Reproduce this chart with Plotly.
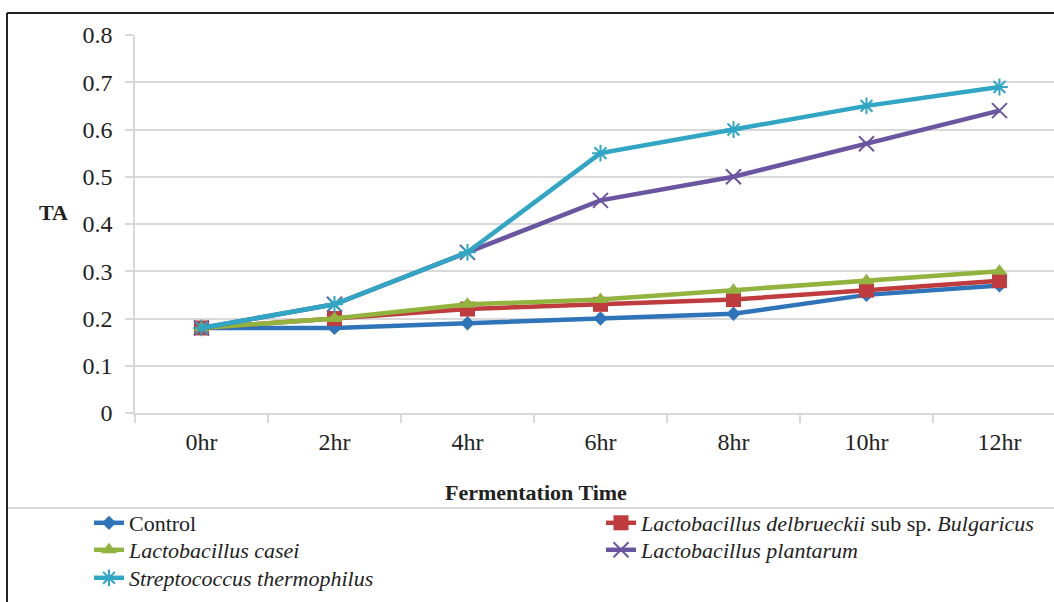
import plotly.graph_objects as go

times = ["0hr", "2hr", "4hr", "6hr", "8hr", "10hr", "12hr"]
control = [0.18, 0.18, 0.19, 0.20, 0.21, 0.25, 0.27]
delbrueckii = [0.18, 0.20, 0.22, 0.23, 0.24, 0.26, 0.28]
casei = [0.18, 0.20, 0.23, 0.24, 0.26, 0.28, 0.30]
plantarum = [0.18, 0.23, 0.34, 0.45, 0.50, 0.57, 0.64]
thermophilus = [0.18, 0.23, 0.34, 0.55, 0.60, 0.65, 0.69]
y_ticks = [0, 0.1, 0.2, 0.3, 0.4, 0.5, 0.6, 0.7, 0.8]
y_ticktext = ["0", "0.1", "0.2", "0.3", "0.4", "0.5", "0.6", "0.7", "0.8"]

names = ["Control",
         "<i>Lactobacillus delbrueckii</i> sub sp. <i>Bulgaricus</i>",
         "<i>Lactobacillus casei</i>",
         "<i>Lactobacillus plantarum</i>",
         "<i>Streptococcus thermophilus</i>"]
series = [control, delbrueckii, casei, plantarum, thermophilus]
colors = ["#2F74B8", "#BE3B3E", "#92B43F", "#6A55A0", "#31A6C4"]
symbols = ["diamond", "square", "triangle-up", "x-thin-open", "asterisk-open"]
sizes = [11, 15, 14, 15, 14]
# legend text-start (x px) and row centre (y px) for each entry
leg_pos = [(131, 523), (643, 523), (131, 550), (643, 550), (131, 578)]

W, H = 1054, 602
L, R, T, B = 135, 0, 35, 189
PW, PH = W - L - R, H - T - B

def px(x):
    return (x - L) / PW

def py(y):
    return (H - B - y) / PH

font = "Liberation Serif"
grid = "#D9D9D9"
txt = "#222222"

fig = go.Figure()
legend_layout = {}
for i, (n, s, c, sym, sz) in enumerate(zip(names, series, colors, symbols, sizes)):
    lid = "legend" if i == 0 else f"legend{i + 1}"
    label = f'<span style="font-family:Liberation Serif">{n}</span>'
    fig.add_trace(go.Scatter(
        x=times, y=s, name=label, mode="lines+markers", legend=lid,
        line=dict(color=c, width=4.5),
        marker=dict(symbol=sym, size=sz, color=c,
                    line=dict(color=c, width=2 if "open" in sym else 0)),
    ))
    tx, ty = leg_pos[i]
    legend_layout[lid] = dict(
        xref="paper", yref="paper", orientation="v",
        x=px(tx - 42), y=py(ty), xanchor="left", yanchor="middle",
        bgcolor="rgba(0,0,0,0)", borderwidth=0,
        font=dict(family=font, size=22, color=txt),
    )

fig.update_layout(
    width=W, height=H,
    margin=dict(l=L, r=R, t=T, b=B),
    paper_bgcolor="white", plot_bgcolor="white",
    font=dict(family=font, size=24, color=txt),
    showlegend=True,
    xaxis=dict(type="category", range=[-0.5, 6.41], showgrid=False,
               showline=True, linecolor=grid, linewidth=1.5,
               ticks="outside", tickson="boundaries", ticklen=8, tickcolor=grid, tickwidth=1.5,
               ticklabelstandoff=6, tickfont=dict(family=font, size=24, color=txt)),
    yaxis=dict(range=[0, 0.8], tickvals=y_ticks, ticktext=y_ticktext,
               showgrid=True, gridcolor=grid, gridwidth=1.5,
               showline=True, linecolor=grid, linewidth=1.5,
               ticks="outside", ticklen=8, tickcolor=grid, tickwidth=1.5,
               ticklabelstandoff=8, tickfont=dict(family=font, size=24, color=txt),
               zeroline=False),
    annotations=[
        dict(text="<b>TA</b>", x=px(53), y=py(212), xref="paper", yref="paper",
             xanchor="center", yanchor="middle",
             showarrow=False, font=dict(family=font, size=22, color=txt)),
        dict(text="<b>Fermentation Time</b>", x=px(536), y=py(492), xref="paper", yref="paper",
             xanchor="center", yanchor="middle",
             showarrow=False, font=dict(family=font, size=22, color=txt)),
    ],
    shapes=[
        dict(type="line", xref="paper", yref="paper", x0=px(7), x1=px(W + 5), y0=py(13), y1=py(13),
             line=dict(color=txt, width=2)),
        dict(type="line", xref="paper", yref="paper", x0=px(7), x1=px(7), y0=py(13), y1=py(H + 5),
             line=dict(color=txt, width=2)),
        dict(type="line", xref="paper", yref="paper", x0=px(8), x1=px(W + 5), y0=py(508), y1=py(508),
             line=dict(color=grid, width=2)),
    ],
    **legend_layout,
)

fig.write_html("out.html")
